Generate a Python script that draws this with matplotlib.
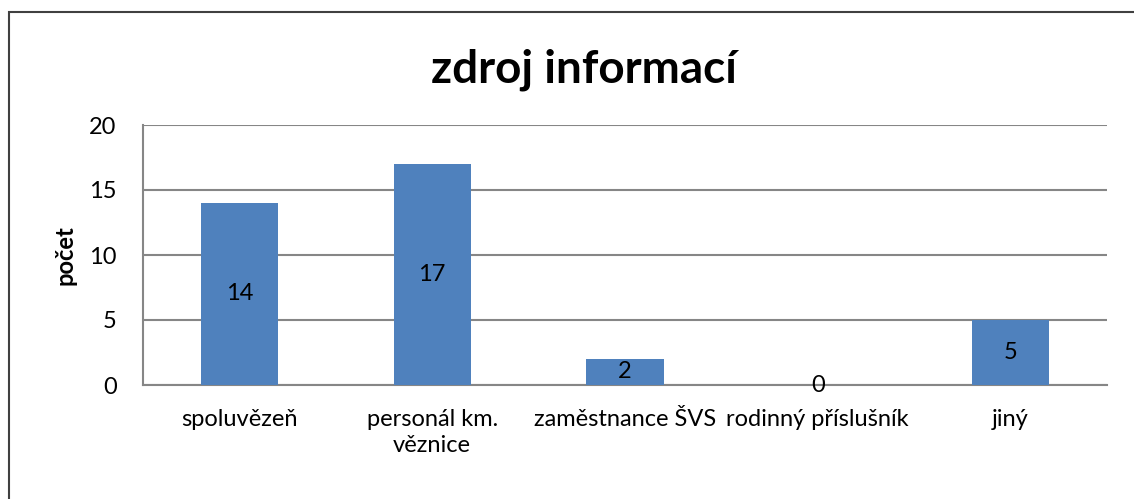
import matplotlib
matplotlib.use('Agg')
import matplotlib.pyplot as plt
from matplotlib.patches import Rectangle

categories = ['spoluvězeň', 'personál km.\nvěznice', 'zaměstnance ŠVS', 'rodinný příslušník', 'jiný']
counts = [14, 17, 2, 0, 5]
yticks = [0, 5, 10, 15, 20]

BAR_COLOR = '#4F81BD'
GRID_COLOR = '#868686'

plt.rcParams['font.family'] = ['Lato', 'DejaVu Sans']

W, H = 1134, 499
fig = plt.figure(figsize=(W / 100, H / 100), dpi=100)
ax = fig.add_axes([143 / W, 1 - 385 / H, (1107 - 143) / W, (385 - 125) / H])

x = list(range(len(categories)))
bars = ax.bar(x, counts, width=0.4, color=BAR_COLOR, zorder=3)
for b, v in zip(bars, counts):
    ax.text(b.get_x() + b.get_width() / 2, v / 2, str(v), ha='center', va='center',
            fontsize=17, zorder=4)

ax.set_xlim(-0.5, len(categories) - 0.5)
ax.set_ylim(0, 20)
ax.set_yticks(yticks)
ax.set_xticks(x)
ax.set_xticklabels(categories, fontsize=17, linespacing=1.3)
ax.tick_params(axis='both', length=0, labelsize=17)
ax.tick_params(axis='x', pad=17)
ax.tick_params(axis='y', pad=19)
ax.yaxis.grid(True, color=GRID_COLOR, linewidth=1.5, zorder=0)
for side in ['top', 'right']:
    ax.spines[side].set_visible(False)
for side in ['left', 'bottom']:
    ax.spines[side].set_color(GRID_COLOR)
    ax.spines[side].set_linewidth(1.5)

ax.set_ylabel('počet', fontsize=17, fontweight='bold', labelpad=9)
fig.text(584 / W, 1 - 70 / H, 'zdroj informací', ha='center', va='center',
         fontsize=33, fontweight='bold')

# chart frame (runs off the right and bottom edges)
fig.patches.append(Rectangle((9 / W, -0.1), 1.2, 1 - 12 / H + 0.1, transform=fig.transFigure,
                             fill=False, edgecolor='#404040', linewidth=1.5))

fig.savefig('out.png', dpi=100)
